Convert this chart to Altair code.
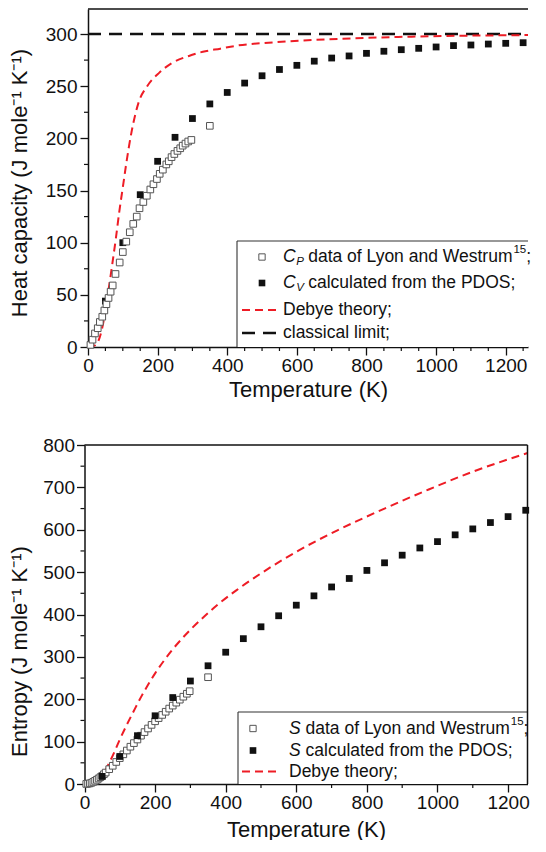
import altair as alt
import pandas as pd

# ---------------- data: heat capacity panel ----------------
cp_T = [7, 13, 20, 28, 34, 41, 47, 53, 59, 65, 71, 79, 91, 100, 110, 120, 130, 140, 148, 159,
        169, 179, 188, 198, 206, 215, 225, 232, 240, 248, 257, 265, 272, 280, 288, 297, 350]
cp_val = [2, 7, 13, 18, 24, 29, 35, 41, 47, 53, 59, 70, 81, 91, 101, 110, 118, 125, 133, 139,
          145, 151, 156, 161, 166, 170, 175, 178, 182, 185, 188, 190.5, 193, 195, 197, 198.5, 212]
calc_T = [50, 100, 150, 200, 250, 300, 350, 400, 450, 500, 550, 600, 650, 700, 750, 800,
          850, 900, 950, 1000, 1050, 1100, 1150, 1200, 1250]
cv_val = [44, 100, 146, 178, 201, 219, 233, 244, 253, 260, 266, 270, 274, 277, 279, 281.5,
          283.5, 285, 286.3, 287.6, 288.9, 289.5, 290.4, 291.1, 291.7]
debye_cT = [0, 20, 30, 40, 50, 60, 70, 80, 90, 100, 110, 125, 145, 170, 205, 240, 290, 330,
            380, 430, 530, 730, 930, 1264]
debye_cv = [0, 1.5, 6, 17, 35, 57, 80, 104, 130, 153, 176, 206, 234, 250, 263, 272, 279, 283,
            286, 289, 292, 295.5, 297.5, 299]
limit_T = [0, 1264]
limit_val = [300, 300]

# ---------------- data: entropy panel ----------------
s_T = [5, 10, 15, 20, 25, 30, 35, 40, 45, 50, 55, 60, 70, 80, 90, 100, 110, 120, 130, 140,
       150, 160, 170, 180, 190, 200, 210, 220, 230, 240, 250, 260, 270, 280, 290, 298, 350]
s_val = [0.2, 0.7, 1.5, 3, 5, 7.5, 10, 13, 16, 19, 23, 27, 35, 43, 52, 61, 70, 79, 88, 96.5,
         105, 114, 122.5, 131, 139.5, 148, 155.5, 163, 170.5, 178, 185, 192, 199, 206, 213, 219, 252]
s_calc = [18, 65, 114, 161, 204, 243, 279, 311, 343, 371, 397, 422, 444, 465, 485, 504, 522,
          540, 557, 572, 588, 602, 617, 631, 646]
debye_sT = [0, 20, 40, 50, 60, 70, 80, 90, 100, 120, 140, 160, 180, 200, 225, 250, 275, 300,
            340, 380, 430, 500, 600, 715, 850, 975, 1100, 1255]
debye_s = [0, 1, 10, 20, 33, 50, 67, 86, 105, 140, 173, 205, 234, 261, 291, 318, 342, 364,
           396, 425, 457, 497, 548, 598, 650, 695, 737, 781]

# ---------------- text ----------------
x_title = "Temperature (K)"
y_title_top = "Heat capacity (J mole\u207b\u00b9 K\u207b\u00b9)"
y_title_bot = "Entropy (J mole\u207b\u00b9 K\u207b\u00b9)"
legend_top = [
    ("hollow", [("C", "i", "base"), ("P", "i", "sub"), (" data of Lyon and Westrum", "n", "base"),
                ("15", "n", "sup"), (";", "n", "base")]),
    ("filled", [("C", "i", "base"), ("V", "i", "sub"), (" calculated from the PDOS;", "n", "base")]),
    ("red", [("Debye theory;", "n", "base")]),
    ("black", [("classical limit;", "n", "base")]),
]
legend_bot = [
    ("hollow", [("S", "i", "base"), (" data of Lyon and Westrum", "n", "base"),
                ("15", "n", "sup"), (";", "n", "base")]),
    ("filled", [("S", "i", "base"), (" calculated from the PDOS;", "n", "base")]),
    ("red", [("Debye theory;", "n", "base")]),
]

# ---------------- style / layout ----------------
FONT = "Liberation Sans"
INK = "#111111"
RED = "#ee1c25"
HOLLOW = "#555555"
LABEL_FS = 19
TITLE_FS = 22
LEG_FS = 17.5
SMALL_FS = 11.5

ORIGIN_X = 89          # page x of the plot origin (column-aligned)
W1, H1 = 440, 338
X1_MAX, Y1_MAX = 1264, 324
SHIFT = 3.5            # bottom panel axis sits a little left of the top one
R2 = 439.5
W2, H2 = 440, 339
X2_MAX, Y2_MAX = 1255, 800

EM = {' ': .278, ';': .278, 'a': .556, 'b': .556, 'c': .5, 'd': .556, 'e': .556, 'f': .278,
      'h': .556, 'i': .222, 'l': .222, 'm': .833, 'n': .556, 'o': .556, 'r': .333, 's': .5,
      't': .278, 'u': .556, 'y': .5, 'C': .722, 'D': .722, 'L': .556, 'O': .778, 'P': .667,
      'S': .667, 'V': .667, 'W': .944, '1': .556, '5': .556}


def text_w(s, fs):
    return sum(EM.get(c, 0.556) for c in s) * fs


def px_rule(x0, x1, y0, y1, color="#333333", sw=1.1):
    df = pd.DataFrame({"a": [x0], "b": [x1], "c": [y0], "d": [y1]})
    return alt.Chart(df).mark_rule(color=color, strokeWidth=sw).encode(
        x=alt.X("a:Q", scale=None), x2="b:Q", y=alt.Y("c:Q", scale=None), y2="d:Q")


def legend_layers(rows, row_y, box, sym_x, line_x, text_x):
    bx0, by0, bx1, by1 = box
    layers = []
    box_df = pd.DataFrame({"x0": [bx0], "x1": [bx1], "y0": [by0], "y1": [by1]})
    layers.append(alt.Chart(box_df).mark_rect(fill="white", strokeWidth=0).encode(
        x=alt.X("x0:Q", scale=None), x2="x1:Q", y=alt.Y("y0:Q", scale=None), y2="y1:Q"))
    layers.append(px_rule(bx0, bx1, by0, by0))
    layers.append(px_rule(bx0, bx0, by0, by1))
    segs = []
    syms = {"hollow": [], "filled": [], "red": [], "black": []}
    for (kind, parts), y in zip(rows, row_y):
        syms[kind].append(y)
        cx = text_x
        for txt, style, role in parts:
            fs = LEG_FS if role == "base" else SMALL_FS
            dy = 0 if role == "base" else (5 if role == "sub" else -7)
            stripped = txt.lstrip(" ")
            cx += text_w(txt[:len(txt) - len(stripped)], fs)
            segs.append(dict(px=cx + (0.5 if role == "sub" else 0), py=y + dy, t=stripped, fs=fs,
                             it=(style == "i")))
            cx += text_w(stripped, fs)
    seg_df = pd.DataFrame(segs)
    for italic in (True, False):
        sub = seg_df[seg_df.it == italic]
        if len(sub):
            layers.append(alt.Chart(sub).mark_text(
                align="left", baseline="middle", font=FONT, color=INK,
                fontStyle="italic" if italic else "normal").encode(
                x=alt.X("px:Q", scale=None), y=alt.Y("py:Q", scale=None), text="t:N",
                size=alt.Size("fs:Q", scale=None)))
    if syms["hollow"]:
        layers.append(alt.Chart(pd.DataFrame({"px": [sym_x] * len(syms["hollow"]), "py": syms["hollow"]}))
                      .mark_point(shape="square", size=40, filled=True, fill="white", stroke=HOLLOW,
                                  strokeWidth=1, opacity=1)
                      .encode(x=alt.X("px:Q", scale=None), y=alt.Y("py:Q", scale=None)))
    if syms["filled"]:
        layers.append(alt.Chart(pd.DataFrame({"px": [sym_x] * len(syms["filled"]), "py": syms["filled"]}))
                      .mark_point(shape="square", size=44, filled=True, color=INK, opacity=1)
                      .encode(x=alt.X("px:Q", scale=None), y=alt.Y("py:Q", scale=None)))
    for kind, color, dash, sw in (("red", RED, [8, 5], 2), ("black", INK, [13, 8], 2.5)):
        if syms[kind]:
            n = len(syms[kind])
            df = pd.DataFrame({"a": [line_x[0]] * n, "b": [line_x[1]] * n, "py": syms[kind]})
            layers.append(alt.Chart(df).mark_rule(color=color, strokeDash=dash, strokeWidth=sw)
                          .encode(x=alt.X("a:Q", scale=None), x2="b:Q", y=alt.Y("py:Q", scale=None)))
    return layers


def panel(sx, sy, W, H, x0, x1, x_axis, y_axis, hollow, filled, debye, extra_lines, minor_x,
          minor_y, legend, hollow_on_top, right_border):
    def X():
        return alt.X("T:Q", scale=sx, axis=x_axis)

    def Y():
        return alt.Y("v:Q", scale=sy, axis=y_axis)

    layers = []
    for df, color, dash, sw in extra_lines:
        layers.append(alt.Chart(df).mark_line(color=color, strokeDash=dash, strokeWidth=sw).encode(
            x=X(), y=Y()))
    layers.append(alt.Chart(debye).mark_line(color=RED, strokeDash=[8, 5], strokeWidth=2,
                                             interpolate="monotone").encode(x=X(), y=Y()))
    hollow_layer = alt.Chart(hollow).mark_point(shape="square", size=44, filled=True, fill="white",
                                                stroke=HOLLOW, strokeWidth=1, opacity=1).encode(
        x=X(), y=Y())
    filled_layer = alt.Chart(filled).mark_point(shape="square", size=46, filled=True, color=INK,
                                                opacity=1).encode(x=X(), y=Y())
    if hollow_on_top:
        layers += [filled_layer, hollow_layer]
    else:
        layers += [hollow_layer, filled_layer]
    layers.append(alt.Chart(pd.DataFrame({"T": minor_x})).mark_rule(color=INK, strokeWidth=1.2).encode(
        x=X(), y=alt.value(H), y2=alt.value(H + 4)))
    layers.append(alt.Chart(pd.DataFrame({"v": minor_y})).mark_rule(color=INK, strokeWidth=1.2).encode(
        y=Y(), x=alt.value(x0), x2=alt.value(x0 - 4)))
    layers += legend
    layers.append(alt.Chart().mark_rule(color=INK, strokeWidth=1.5).encode(
        x=alt.value(x0), x2=alt.value(x1), y=alt.value(0)))
    if right_border:
        layers.append(alt.Chart().mark_rule(color=INK, strokeWidth=1.5).encode(
            x=alt.value(x1), y=alt.value(0), y2=alt.value(H)))
    return alt.layer(*layers).properties(width=W, height=H)


# ---------- top panel (plot top at page y=8) ----------
sx1 = alt.Scale(domain=[0, X1_MAX], nice=False, zero=False)
sy1 = alt.Scale(domain=[0, Y1_MAX], nice=False, zero=False)
xa1 = alt.Axis(values=list(range(0, 1201, 200)), title=x_title, tickSize=8, labelPadding=1,
               format="d", labelFlush=False, titleBaseline="middle", titleY=42)
ya1 = alt.Axis(values=list(range(0, 301, 50)), title=y_title_top, tickSize=8, labelPadding=3,
               format="d", titleAngle=270, titleAlign="center", titleBaseline="alphabetic",
               titleX=-62, titleY=173.5)
leg1 = legend_layers(legend_top, [248, 274, 301, 324],
                     (238 - ORIGIN_X, 232, W1, H1),
                     263 - ORIGIN_X, (243 - ORIGIN_X, 281 - ORIGIN_X), 284 - ORIGIN_X)
top = panel(sx1, sy1, W1, H1, 0, W1, xa1, ya1,
            pd.DataFrame({"T": cp_T, "v": cp_val}),
            pd.DataFrame({"T": calc_T, "v": cv_val}),
            pd.DataFrame({"T": debye_cT, "v": debye_cv}),
            [(pd.DataFrame({"T": limit_T, "v": limit_val}), INK, [13, 8], 2.5)],
            [t for t in range(50, X1_MAX + 1, 50) if t % 200],
            [v for v in range(25, Y1_MAX + 1, 50)],
            leg1, True, False)

# ---------- bottom panel (plot top at page y=445) ----------
sx2 = alt.Scale(domain=[0, X2_MAX], range=[-SHIFT, R2], nice=False, zero=False)
sy2 = alt.Scale(domain=[0, Y2_MAX], nice=False, zero=False)
xa2 = alt.Axis(values=list(range(0, 1201, 200)), title=x_title, tickSize=8, labelPadding=1,
               format="d", labelFlush=False, titleBaseline="middle", titleY=45)
ya2 = alt.Axis(values=list(range(0, 801, 100)), title=y_title_bot, tickSize=8, labelPadding=2,
               format="d", offset=SHIFT, titleAngle=270, titleAlign="center",
               titleBaseline="alphabetic", titleX=-58.5, titleY=206)
leg2 = legend_layers(legend_bot, [283.5, 305.5, 326.5],
                     (239 - ORIGIN_X, 267, R2, H2),
                     254 - ORIGIN_X, (243 - ORIGIN_X, 280 - ORIGIN_X), 290 - ORIGIN_X)
bottom = panel(sx2, sy2, W2, H2, -SHIFT, R2, xa2, ya2,
               pd.DataFrame({"T": s_T, "v": s_val}),
               pd.DataFrame({"T": calc_T, "v": s_calc}),
               pd.DataFrame({"T": debye_sT, "v": debye_s}),
               [],
               [t for t in range(100, X2_MAX + 1, 200)],
               [v for v in range(50, Y2_MAX, 100)],
               leg2, False, True)

chart = alt.vconcat(top, bottom, spacing=36).properties(
    padding={"left": 0, "top": 0, "right": 0, "bottom": 0}
).configure_view(stroke=None).configure_axis(
    labelFont=FONT, titleFont=FONT, labelFontSize=LABEL_FS, titleFontSize=TITLE_FS,
    labelColor=INK, titleColor=INK, domainColor=INK, tickColor=INK,
    domainWidth=1.5, tickWidth=1.3, grid=False, titleFontWeight="normal", labelOverlap=False
)

chart.save("out.html", embed_options={"renderer": "svg", "actions": False})
